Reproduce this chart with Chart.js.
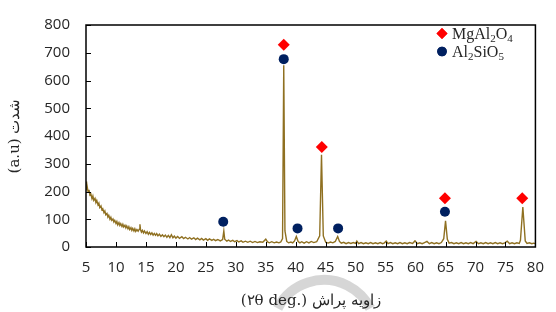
<!DOCTYPE html>
<html>
<head>
<meta charset="utf-8">
<script src="https://cdn.jsdelivr.net/npm/chart.js@4"></script>
<style>
  html, body { margin: 0; padding: 0; background: #fff; }
  #wrap { width: 556px; height: 312px; position: relative; }
</style>
</head>
<body>
<div id="wrap"><canvas id="xrd"></canvas></div>
<script>
// XRD pattern: [2theta, counts]
const pattern = [
  [5.0, 236], [5.1, 205], [5.2, 218], [5.35, 198], [5.5, 206], [5.65, 188], [5.8, 192],
  [6.0, 174], [6.15, 184], [6.3, 168], [6.5, 175], [6.65, 160], [6.8, 168], [7.0, 152],
  [7.15, 158], [7.3, 142], [7.5, 148], [7.65, 134], [7.8, 138], [8.0, 124], [8.15, 130],
  [8.3, 116], [8.5, 121], [8.65, 108], [8.8, 114], [9.0, 100], [9.15, 107], [9.3, 96],
  [9.5, 101], [9.65, 90], [9.8, 96], [10.0, 85], [10.15, 92], [10.3, 80], [10.5, 88],
  [10.65, 78], [10.8, 84], [11.0, 74], [11.15, 82], [11.3, 72], [11.5, 78], [11.65, 69],
  [11.8, 76], [12.0, 66], [12.15, 73], [12.3, 63], [12.5, 70], [12.65, 60], [12.8, 67],
  [13.0, 58], [13.15, 66], [13.3, 56], [13.5, 63], [13.7, 57], [13.9, 64], [14.0, 82],
  [14.1, 62], [14.25, 54], [14.4, 60], [14.6, 51], [14.75, 58], [15.0, 49], [15.2, 55],
  [15.4, 46], [15.6, 53], [15.8, 45], [16.0, 51], [16.2, 43], [16.4, 49], [16.6, 42],
  [16.8, 48], [17.0, 40], [17.25, 46], [17.5, 38], [17.75, 44], [18.0, 37], [18.25, 43],
  [18.5, 35], [18.75, 42], [19.0, 34], [19.25, 44], [19.5, 33], [19.75, 39], [20.0, 32],
  [20.3, 38], [20.6, 31], [21.0, 37], [21.3, 30], [21.6, 35], [22.0, 29], [22.3, 34],
  [22.6, 28], [23.0, 33], [23.3, 27], [23.6, 32], [24.0, 26], [24.3, 31], [24.6, 25],
  [25.0, 30], [25.3, 24], [25.6, 29], [26.0, 24], [26.3, 28], [26.6, 23], [27.0, 27],
  [27.4, 22], [27.8, 27], [28.0, 58], [28.15, 28], [28.5, 21], [28.8, 25], [29.1, 20],
  [29.5, 24], [29.8, 19], [30.2, 23], [30.5, 18], [30.9, 22], [31.2, 17], [31.6, 21],
  [32.0, 17], [32.4, 21], [32.8, 16], [33.2, 20], [33.6, 16], [34.0, 19], [34.5, 17],
  [35.0, 28], [35.3, 18], [35.6, 15], [36.0, 19], [36.4, 15], [36.8, 18], [37.2, 15],
  [37.5, 18], [37.8, 30], [38.0, 655], [38.2, 58], [38.5, 20], [38.8, 15], [39.2, 18],
  [39.5, 15], [39.8, 22], [40.1, 38], [40.4, 20], [40.7, 15], [41.0, 19], [41.4, 14],
  [41.8, 19], [42.2, 15], [42.6, 20], [43.0, 16], [43.5, 19], [44.0, 40], [44.3, 332],
  [44.6, 40], [45.0, 17], [45.4, 14], [45.8, 18], [46.2, 15], [46.6, 20], [47.0, 38],
  [47.3, 20], [47.6, 14], [48.0, 17], [48.4, 12], [48.8, 16], [49.2, 13], [49.6, 16],
  [50.0, 13], [50.2, 21], [50.5, 12], [50.9, 16], [51.3, 12], [51.7, 15], [52.1, 12],
  [52.5, 16], [52.9, 12], [53.3, 15], [53.7, 12], [54.1, 16], [54.5, 12], [54.8, 15],
  [55.1, 21], [55.4, 12], [55.8, 16], [56.2, 12], [56.6, 15], [57.0, 12], [57.4, 16],
  [57.8, 12], [58.2, 15], [58.6, 12], [59.0, 16], [59.5, 13], [59.9, 22], [60.3, 12],
  [60.7, 15], [61.1, 12], [61.5, 16], [61.9, 20], [62.3, 12], [62.7, 16], [63.1, 12],
  [63.5, 15], [63.9, 12], [64.3, 16], [64.7, 30], [65.0, 94], [65.3, 28], [65.6, 14],
  [66.0, 16], [66.4, 12], [66.8, 15], [67.2, 12], [67.6, 16], [68.0, 12], [68.4, 15],
  [68.8, 12], [69.2, 16], [69.6, 12], [70.1, 20], [70.5, 12], [70.9, 15], [71.3, 12],
  [71.7, 16], [72.1, 12], [72.5, 15], [72.9, 12], [73.3, 16], [73.7, 12], [74.1, 15],
  [74.5, 12], [74.9, 15], [75.3, 21], [75.7, 12], [76.1, 15], [76.5, 12], [76.9, 15],
  [77.3, 13], [77.5, 24], [77.9, 144], [78.3, 22], [78.6, 13], [79.0, 15], [79.4, 12],
  [79.7, 14], [80.0, 12]
];

// phase markers
const spinelAngles = [38.0, 44.35, 64.9, 77.8];
const spinelLevels = [729, 360, 176, 176];
const silicateAngles = [27.9, 38.0, 40.3, 47.07, 64.9];
const silicateLevels = [91, 677, 67, 67, 127];

const xTicks = [5, 80, 5];     // min, max, step
const yTicks = [0, 800, 100];

const LINE = '#8f7021';
const RED = '#ff0000';
const NAVY = '#002060';
const TEXT = '#262626';

const toPoints = (xs, ys) => xs.map((x, i) => ({x: x, y: ys[i]}));

// frame, inward ticks, legend with subscripts, watermark arc
const decor = {
  id: 'decor',
  beforeDraw(chart) {
    const ctx = chart.ctx;
    ctx.save();
    ctx.strokeStyle = 'rgba(210,210,210,0.9)';
    ctx.lineWidth = 10;
    ctx.beginPath();
    ctx.arc(324, 332, 52, Math.PI * 1.15, Math.PI * 1.85);
    ctx.stroke();
    ctx.restore();
  },
  afterDraw(chart) {
    const {ctx, chartArea: a, scales} = chart;
    ctx.save();
    ctx.strokeStyle = '#000';
    ctx.lineWidth = 1.5;
    ctx.strokeRect(a.left, a.top, a.right - a.left, a.bottom - a.top);
    ctx.lineWidth = 1;
    ctx.beginPath();
    for (let v = xTicks[0]; v <= xTicks[1]; v += xTicks[2]) {
      const px = Math.round(scales.x.getPixelForValue(v)) + 0.5;
      ctx.moveTo(px, a.bottom);
      ctx.lineTo(px, a.bottom - 5);
    }
    for (let v = yTicks[0]; v <= yTicks[1]; v += yTicks[2]) {
      const py = Math.round(scales.y.getPixelForValue(v)) + 0.5;
      ctx.moveTo(a.left, py);
      ctx.lineTo(a.left + 5, py);
    }
    ctx.stroke();

    // legend
    const rows = [
      {style: 'rectRot', r: 5.5, color: RED, parts: [['MgAl', 0], ['2', 1], ['O', 0], ['4', 1]], y: 33.5},
      {style: 'circle', r: 4.8, color: NAVY, parts: [['Al', 0], ['2', 1], ['SiO', 0], ['5', 1]], y: 51.5}
    ];
    rows.forEach((row) => {
      ctx.fillStyle = row.color;
      ctx.strokeStyle = row.color;
      Chart.helpers.drawPoint(ctx, {pointStyle: row.style, radius: row.r, borderWidth: 0}, 442, row.y);
      ctx.fill();
      let x = 452;
      ctx.fillStyle = TEXT;
      ctx.textBaseline = 'alphabetic';
      ctx.textAlign = 'left';
      row.parts.forEach(([s, sub]) => {
        ctx.font = sub ? '11px "Liberation Serif"' : '16px "Liberation Serif"';
        ctx.fillText(s, x, row.y + (sub ? 8.5 : 5.5));
        x += ctx.measureText(s).width;
      });
    });
    ctx.restore();
  }
};

new Chart(document.getElementById('xrd'), {
  type: 'scatter',
  plugins: [decor],
  data: {
    datasets: [
      {
        label: 'MgAl2O4',
        data: toPoints(spinelAngles, spinelLevels),
        pointStyle: 'rectRot',
        pointRadius: 6,
        backgroundColor: RED,
        borderColor: RED,
        borderWidth: 0,
        order: 0
      },
      {
        label: 'Al2SiO5',
        data: toPoints(silicateAngles, silicateLevels),
        pointStyle: 'circle',
        pointRadius: 5,
        backgroundColor: NAVY,
        borderColor: NAVY,
        borderWidth: 0,
        order: 1
      },
      {
        label: 'pattern',
        data: pattern.map(([x, y]) => ({x: x, y: y})),
        showLine: true,
        pointRadius: 0,
        borderColor: LINE,
        borderWidth: 1.4,
        order: 2
      }
    ]
  },
  options: {
    responsive: true,
    maintainAspectRatio: false,
    animation: false,
    layout: {padding: {top: 18, right: 10, left: 0, bottom: 0}},
    plugins: {legend: {display: false}, tooltip: {enabled: false}},
    scales: {
      x: {
        type: 'linear',
        min: xTicks[0],
        max: xTicks[1],
        afterFit: (scale) => { scale.height = 65; },
        grid: {display: false, drawTicks: false},
        border: {display: false},
        ticks: {
          stepSize: xTicks[2],
          padding: 12,
          color: TEXT,
          maxRotation: 0,
          font: {family: '"Open Sans"', size: 15}
        },
        title: {
          display: true,
          text: '(۲θ deg.) زاویه پراش',
          color: TEXT,
          padding: {top: 0, bottom: 2},
          font: {family: '"DejaVu Serif"', size: 15}
        }
      },
      y: {
        min: yTicks[0],
        max: yTicks[1],
        afterFit: (scale) => { scale.width = 86; },
        grid: {display: false, drawTicks: false},
        border: {display: false},
        ticks: {
          stepSize: yTicks[2],
          padding: 16,
          color: TEXT,
          font: {family: '"Open Sans"', size: 15}
        },
        title: {
          display: true,
          text: '(a.u) شدت',
          color: TEXT,
          padding: {top: 6, bottom: 0},
          font: {family: '"DejaVu Serif"', size: 15}
        }
      }
    }
  }
});
</script>
</body>
</html>
